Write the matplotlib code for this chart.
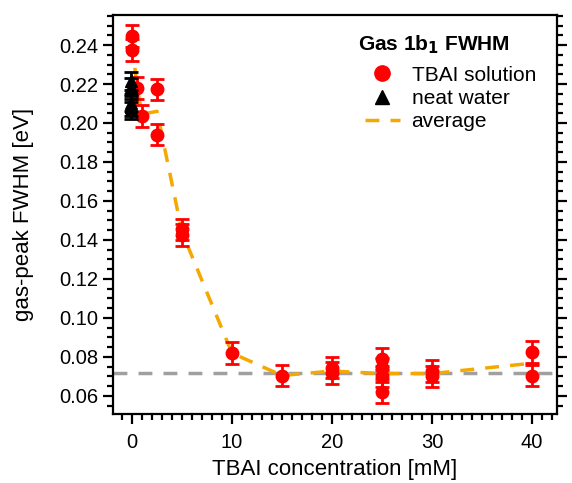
import matplotlib.pyplot as plt
from matplotlib.lines import Line2D
from matplotlib.ticker import MultipleLocator, FormatStrFormatter

plt.rcParams['font.family'] = ['Liberation Sans', 'DejaVu Sans']

# TBAI solution points
tbai_conc = [0, 0, 0.5, 1, 2.5, 2.5, 5, 5, 10, 15, 20, 20, 25, 25, 25, 25, 30, 30, 40, 40]
tbai_fwhm = [0.2446, 0.2374, 0.2180, 0.2035, 0.2172, 0.1940, 0.1455, 0.1425, 0.0820, 0.0705,
             0.0745, 0.0718, 0.0790, 0.0742, 0.0700, 0.0618, 0.0728, 0.0700, 0.0825, 0.0705]
tbai_err = [0.0055] * len(tbai_conc)

# neat water points
water_conc = [-0.1, -0.1, -0.1, -0.1, -0.1]
water_fwhm = [0.2215, 0.2185, 0.2105, 0.2080, 0.2065]
water_err = [0.0045] * len(water_conc)

# average curve
avg_conc = [0, 0.5, 1, 2.5, 5, 10, 15, 20, 25, 30, 40]
avg_fwhm = [0.241, 0.2185, 0.2045, 0.2060, 0.1440, 0.0820, 0.0705, 0.0728, 0.0715, 0.0715, 0.0768]

baseline = 0.0717

red = '#ff0000'
orange = '#f5a800'

fig = plt.figure(figsize=(5.72, 4.83), dpi=100)
ax = fig.add_axes([0.1976, 0.143, 0.776, 0.826])

ax.axhline(baseline, color='#a0a0a0', lw=2.5, dashes=(4, 3.2), zorder=1)
ax.plot(avg_conc, avg_fwhm, color=orange, lw=2.5, dashes=(4, 3.2), zorder=2)

ax.errorbar(tbai_conc, tbai_fwhm, yerr=tbai_err, fmt='o', color=red, ms=9,
            elinewidth=2, capsize=5, capthick=2, zorder=3)
ax.errorbar(water_conc, water_fwhm, yerr=water_err, fmt='^', color='black', ms=8,
            elinewidth=2, capsize=5, capthick=2, zorder=4)

ax.set_xlim(-1.9, 42.5)
ax.set_ylim(0.0508, 0.2554)
ax.xaxis.set_major_locator(MultipleLocator(10))
ax.xaxis.set_minor_locator(MultipleLocator(1))
ax.yaxis.set_major_locator(MultipleLocator(0.02))
ax.yaxis.set_minor_locator(MultipleLocator(0.005))
ax.yaxis.set_major_formatter(FormatStrFormatter('%.2f'))

for s in ax.spines.values():
    s.set_linewidth(1.6)
ax.tick_params(which='both', direction='out', width=1.6, right=True, top=False, labelsize=14.5)
ax.tick_params(which='major', length=7)
ax.tick_params(which='minor', length=4.5)
ax.tick_params(axis='x', which='major', pad=7)

ax.set_xlabel('TBAI concentration [mM]', fontsize=16, labelpad=5)
ax.set_ylabel('gas-peak FWHM [eV]', fontsize=16, labelpad=18)

# legend title as separate text
fig.text(358 / 572, 1 - 45 / 483, r'Gas 1b$_\mathbf{1}$ FWHM', fontsize=15, fontweight='bold',
         ha='left', va='center')

handles = [
    Line2D([], [], marker='o', color=red, ls='none', ms=11),
    Line2D([], [], marker='^', color='black', ls='none', ms=10),
    Line2D([], [], color=orange, lw=2.5, dashes=(4, 3.2)),
]
labels = ['TBAI solution', 'neat water', 'average']
leg = ax.legend(handles, labels, loc='upper left', bbox_to_anchor=(346 / 572, 1 - 47 / 483),
                bbox_transform=fig.transFigure, frameon=False, fontsize=15,
                handlelength=1.7, handletextpad=0.55, labelspacing=0.2)

fig.savefig('out.png', dpi=100)
